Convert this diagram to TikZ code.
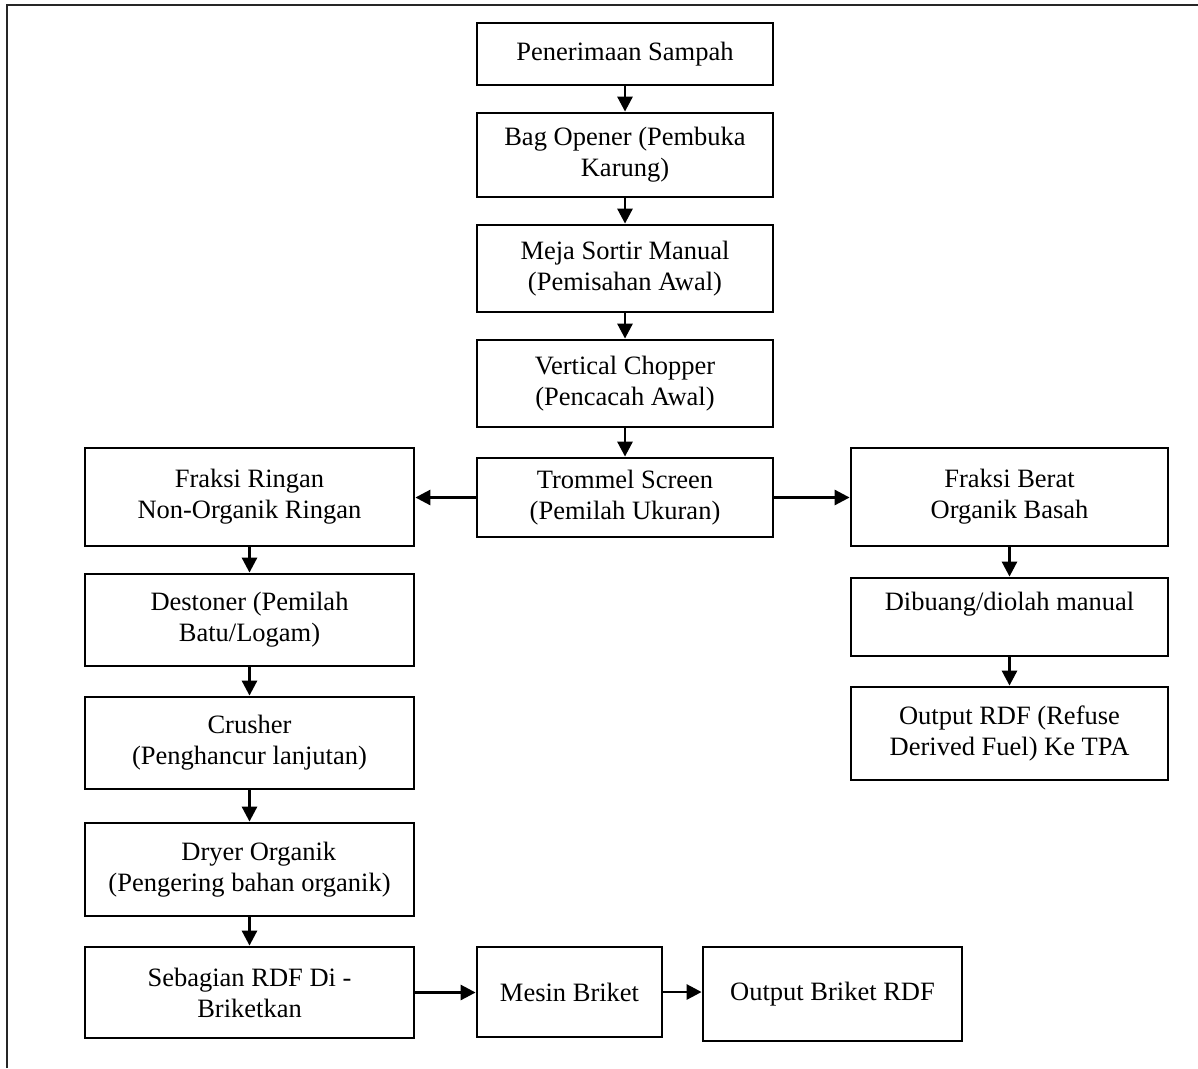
\documentclass[tikz,border=0pt]{standalone}
\usepackage{fontspec}
\setmainfont{Liberation Serif}
\usetikzlibrary{arrows.meta}
\begin{document}
\begin{tikzpicture}[x=1pt,y=-1pt,
  box/.style={draw, line width=2.8pt, inner sep=0pt, align=center,
    font=\fontsize{26.5}{31}\selectfont},
  arr/.style={line width=2.8pt, -{Triangle[length=15pt,width=15pt]}}]
\useasboundingbox (0,0) rectangle (1198,1068);
\draw[line width=2.2pt, black!85] (7,1068) -- (7,5) -- (1198,5);
% centre column
\node[box, minimum width=296pt, minimum height=62pt] (b1) at (625,54) {Penerimaan Sampah};
\node[box, minimum width=296pt, minimum height=84pt] (b2) at (625,155) {Bag Opener (Pembuka\\Karung)};
\node[box, minimum width=296pt, minimum height=87pt] (b3) at (625,268.5) {Meja Sortir Manual\\(Pemisahan Awal)};
\node[box, minimum width=296pt, minimum height=87pt] (b4) at (625,383.5) {Vertical Chopper\\(Pencacah Awal)};
\node[box, minimum width=296pt, minimum height=79pt] (b5) at (625,497.5) {Trommel Screen\\(Pemilah Ukuran)};
% left column
\node[box, minimum width=329pt, minimum height=98pt] (l1) at (249.5,497) {\raisebox{4pt}{\shortstack{Fraksi Ringan\\[4pt]Non-Organik Ringan}}};
\node[box, minimum width=329pt, minimum height=92pt] (l2) at (249.5,620) {Destoner (Pemilah\\Batu/Logam)};
\node[box, minimum width=329pt, minimum height=92pt] (l3) at (249.5,743) {Crusher\\(Penghancur lanjutan)};
\node[box, minimum width=329pt, minimum height=93pt] (l4) at (249.5,869.5) {\hspace*{0.7em}Dryer Organik\\(Pengering bahan organik)};
\node[box, minimum width=329pt, minimum height=91pt] (l5) at (249.5,992.5) {Sebagian RDF Di -\\Briketkan};
% bottom row
\node[box, minimum width=185pt, minimum height=90pt] (m) at (569.5,992) {Mesin Briket};
\node[box, minimum width=259pt, minimum height=94pt] (o) at (832.5,994) {Output Briket RDF};
% right column
\node[box, minimum width=317pt, minimum height=98pt] (r1) at (1009.5,497) {Fraksi Berat\\Organik Basah};
\node[box, minimum width=317pt, minimum height=78pt] (r2) at (1009.5,617) {Dibuang/diolah manual\\\mbox{}};
\node[box, minimum width=317pt, minimum height=93pt] (r3) at (1009.5,733.5) {Output RDF (Refuse\\Derived Fuel) Ke TPA};
% connectors
\draw[arr] (b1) -- (b2);
\draw[arr] (b2) -- (b3);
\draw[arr] (b3) -- (b4);
\draw[arr] (b4) -- (b5);
\draw[arr] (b5.west) -- (b5.west -| l1.east);
\draw[arr] (b5.east) -- (b5.east -| r1.west);
\draw[arr] (l1) -- (l2);
\draw[arr] (l2) -- (l3);
\draw[arr] (l3) -- (l4);
\draw[arr] (l4) -- (l5);
\draw[arr] (l5.east) -- (l5.east -| m.west);
\draw[arr] (m.east) -- (m.east -| o.west);
\draw[arr] (r1) -- (r2);
\draw[arr] (r2) -- (r3);
\end{tikzpicture}
\end{document}
